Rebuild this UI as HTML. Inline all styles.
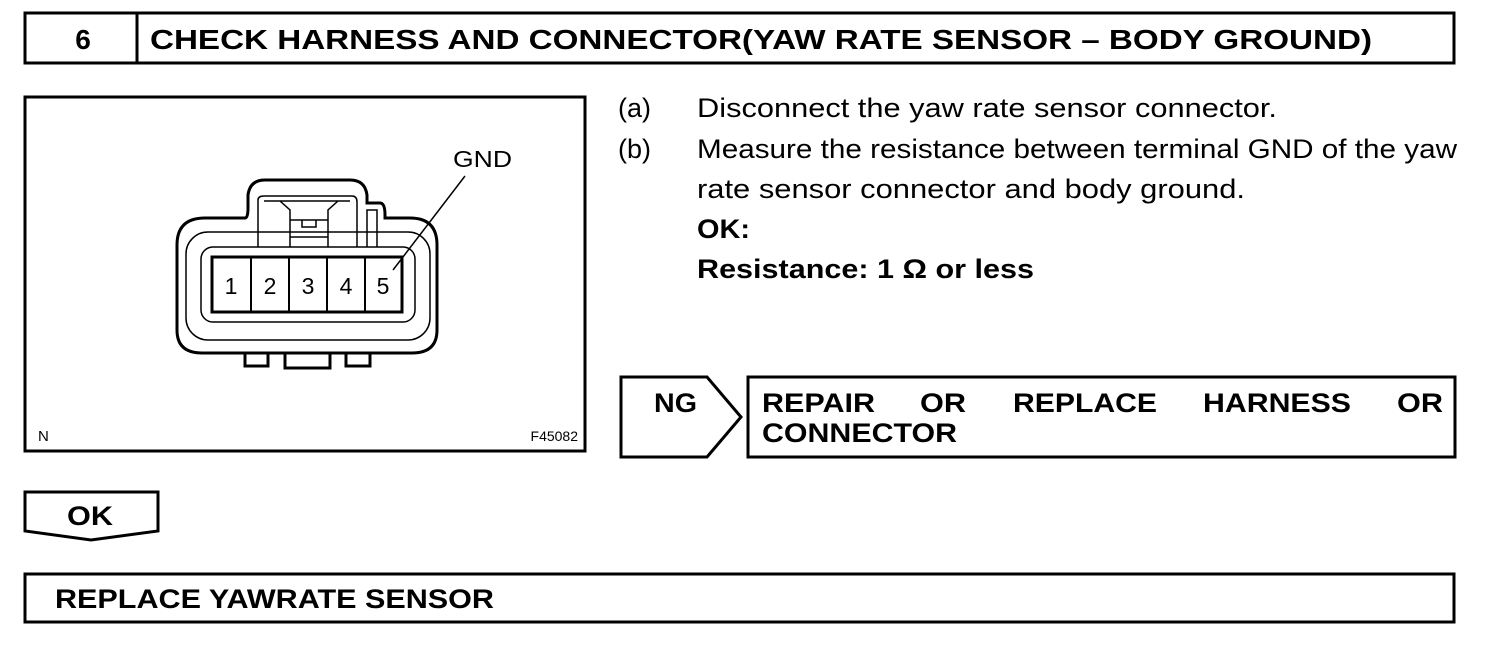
<!DOCTYPE html>
<html><head><style>
body{margin:0;background:#fff;}
svg text{font-family:"Liberation Sans",Arial,sans-serif;fill:#000;}
</style></head><body>
<svg width="1504" height="654" viewBox="0 0 1504 654" xmlns="http://www.w3.org/2000/svg">
<g fill="none" stroke="#000" stroke-width="3">
<rect x="25" y="13" width="1429" height="50"/>
<line x1="137" y1="13" x2="137" y2="63"/>
<rect x="25" y="97" width="560" height="354"/>
<path d="M621 377 H707 L741 417 L707 457 H621 Z"/>
<rect x="748" y="377" width="707" height="80"/>
<path d="M25 492 H158 V531 L91 540 L25 531 Z"/>
<rect x="25" y="574" width="1429" height="48"/>
</g>
<text x="83" y="49" font-size="28" font-weight="bold" text-anchor="middle">6</text>
<text x="150" y="49" font-size="28" font-weight="bold" textLength="1222" lengthAdjust="spacingAndGlyphs">CHECK HARNESS AND CONNECTOR(YAW RATE SENSOR – BODY GROUND)</text>
<g fill="none" stroke="#000">
<path stroke-width="3" d="M205 218 H245 Q248 218 248 208 V195 Q250 180 265 180 H350 Q365 180 367 195 V203 H380 Q385 203 385 215 V218 H410 Q437 218 437 245 V330 Q437 353 412 353 H202 Q177 353 177 330 V245 Q177 218 205 218 Z"/>
<path stroke-width="3" d="M245 353 V366 H268 V353 M285 353 V368 H330 V353 M346 353 V366 H370 V353"/>
<rect stroke-width="1.5" x="186" y="232" width="244" height="108" rx="22"/>
<rect stroke-width="1.5" x="201" y="247" width="214" height="75" rx="12"/>
<path stroke-width="1.5" d="M258 247 V200 Q258 196 264 196 H352 Q357 196 357 202 V247 M264 201 H350 M280 201 L290 210 V247 M338 201 L328 210 V247 M290 220 H328 M290 237 H328 M302 220 V227 H316 V220 M367 247 V210 H377 V247"/>
<rect stroke-width="3" x="212" y="257" width="190" height="55" fill="#fff"/>
<path stroke-width="2" d="M251 257 V312 M289 257 V312 M327 257 V312 M365 257 V312"/>
<line stroke-width="1.5" x1="465" y1="176" x2="393" y2="270"/>
</g>
<g font-size="23" text-anchor="middle">
<text x="231" y="294">1</text><text x="270" y="294">2</text><text x="308" y="294">3</text><text x="346" y="294">4</text><text x="383" y="294">5</text>
</g>
<text x="453" y="167" font-size="23" textLength="59" lengthAdjust="spacingAndGlyphs">GND</text>
<text x="38" y="441" font-size="15">N</text>
<text x="578" y="441" font-size="14" text-anchor="end">F45082</text>
<g font-size="27">
<text x="618" y="117">(a)</text><text x="697" y="117" textLength="580" lengthAdjust="spacingAndGlyphs">Disconnect the yaw rate sensor connector.</text>
<text x="618" y="158">(b)</text><text x="697" y="158" textLength="760" lengthAdjust="spacingAndGlyphs">Measure the resistance between terminal GND of the yaw</text>
<text x="697" y="198" textLength="548" lengthAdjust="spacingAndGlyphs">rate sensor connector and body ground.</text>
<text x="697" y="238" font-weight="bold" textLength="53" lengthAdjust="spacingAndGlyphs">OK:</text>
<text x="697" y="278" font-weight="bold" textLength="337" lengthAdjust="spacingAndGlyphs">Resistance: 1 Ω or less</text>
</g>
<g font-size="27" font-weight="bold">
<text x="654" y="412" textLength="43" lengthAdjust="spacingAndGlyphs">NG</text>
<text x="762" y="412" textLength="113" lengthAdjust="spacingAndGlyphs">REPAIR</text><text x="920" y="412" textLength="46" lengthAdjust="spacingAndGlyphs">OR</text><text x="1013" y="412" textLength="144" lengthAdjust="spacingAndGlyphs">REPLACE</text><text x="1203" y="412" textLength="148" lengthAdjust="spacingAndGlyphs">HARNESS</text><text x="1397" y="412" textLength="46" lengthAdjust="spacingAndGlyphs">OR</text>
<text x="762" y="442" textLength="195" lengthAdjust="spacingAndGlyphs">CONNECTOR</text>
<text x="67" y="525" textLength="46" lengthAdjust="spacingAndGlyphs">OK</text>
<text x="55" y="608" textLength="439" lengthAdjust="spacingAndGlyphs">REPLACE YAWRATE SENSOR</text>
</g>
</svg>
</body></html>
